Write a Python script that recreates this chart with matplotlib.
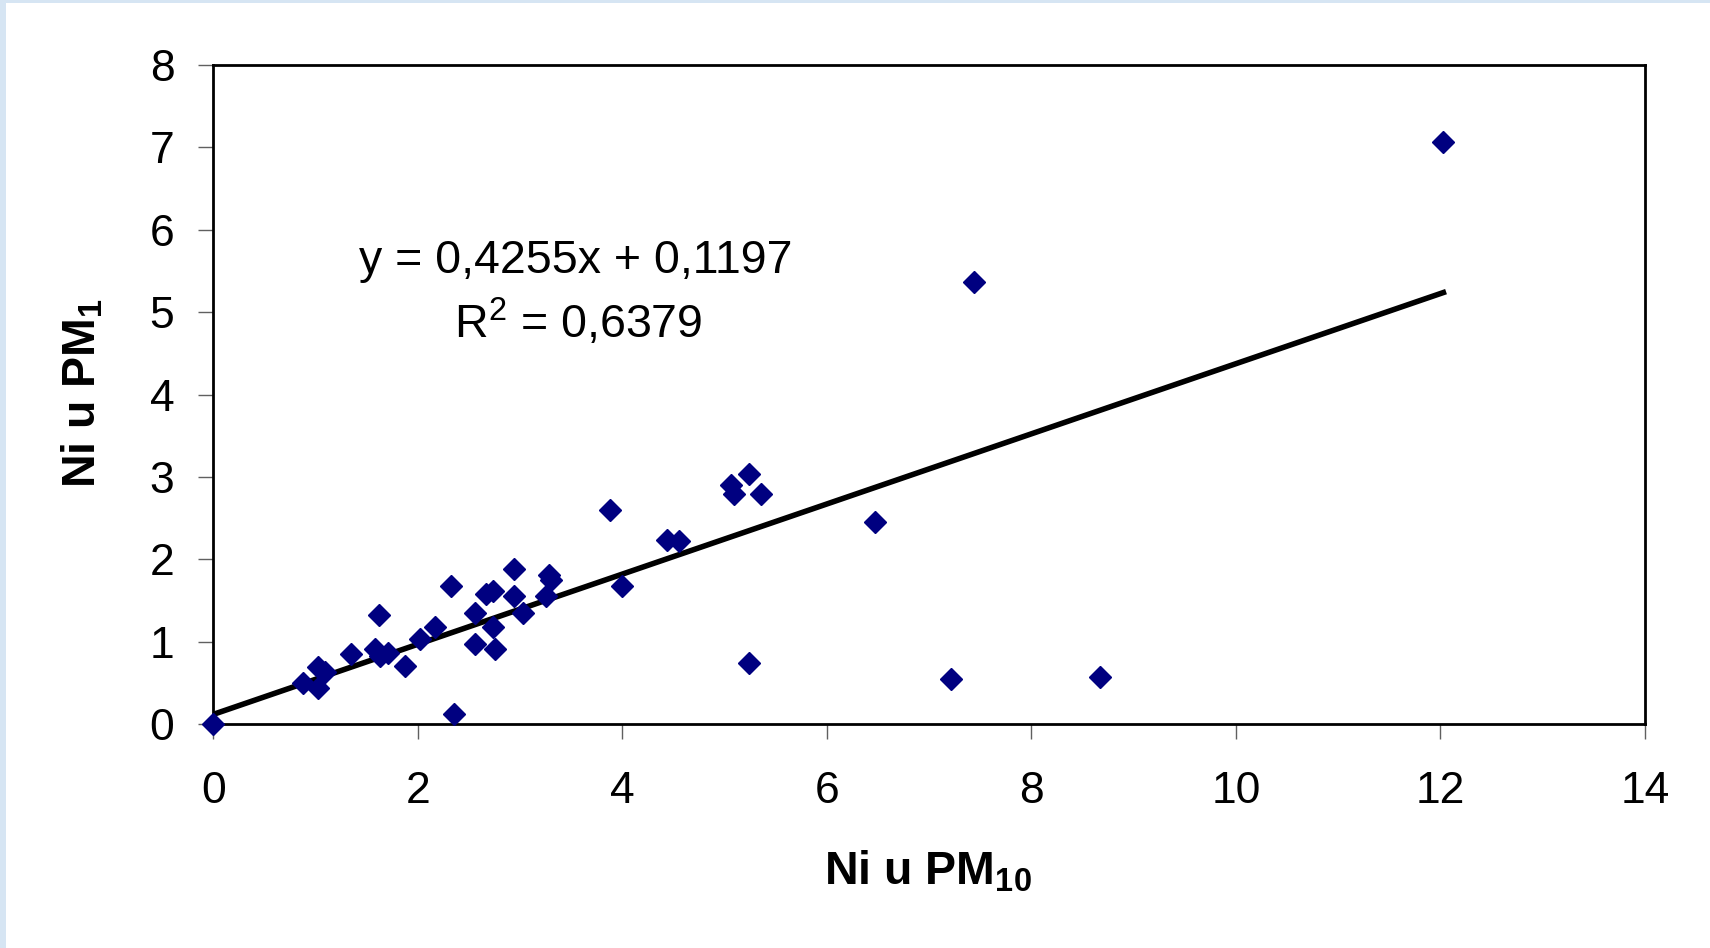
import numpy as np
import matplotlib
matplotlib.use('Agg')
import matplotlib.pyplot as plt
from matplotlib.patches import Rectangle

# podaci: Ni u PM10 (x) i Ni u PM1 (y)
ni_pm10 = [0.0, 0.88, 1.02, 1.09, 1.02, 1.35, 1.62, 1.58, 1.63, 1.71,
           1.88, 2.02, 2.17, 2.33, 2.35, 2.56, 2.56, 2.67, 2.74, 2.74,
           2.76, 2.94, 2.94, 3.03, 3.25, 3.28, 3.30, 3.88, 4.00, 4.44,
           4.55, 5.06, 5.09, 5.24, 5.36, 5.24, 6.47, 7.21, 8.67, 7.44,
           12.03]
ni_pm1 = [0.0, 0.50, 0.70, 0.64, 0.44, 0.85, 1.32, 0.91, 0.83, 0.87,
          0.71, 1.03, 1.18, 1.68, 0.13, 1.35, 0.98, 1.58, 1.62, 1.18,
          0.91, 1.89, 1.56, 1.35, 1.56, 1.81, 1.75, 2.60, 1.68, 2.23,
          2.22, 2.90, 2.80, 3.04, 2.80, 0.74, 2.46, 0.55, 0.57, 5.37,
          7.06]

# linearni trend (Excel)
slope = 0.4255
intercept = 0.1197
r2 = 0.6379

x_ticks = [0, 2, 4, 6, 8, 10, 12, 14]
y_ticks = [0, 1, 2, 3, 4, 5, 6, 7, 8]

plt.rcParams['font.family'] = ['Liberation Sans', 'DejaVu Sans']
plt.rcParams['mathtext.fontset'] = 'custom'
plt.rcParams['mathtext.rm'] = 'Liberation Sans'
plt.rcParams['mathtext.bf'] = 'Liberation Sans:bold'
plt.rcParams['mathtext.it'] = 'Liberation Sans:italic'

fig = plt.figure(figsize=(17.1, 9.48), dpi=100)
fig.patch.set_facecolor('#d6e5f3')
# bijela podloga (plavi rub lijevo i gore)
fig.patches.append(Rectangle((6 / 1710, 0), 1, 1 - 3 / 948, transform=fig.transFigure,
                             facecolor='white', edgecolor='none', zorder=-5))

ax = fig.add_axes([0.1247, 0.2360, 0.8372, 0.6955])
ax.set_facecolor('white')

ax.plot(ni_pm10, ni_pm1, linestyle='none', marker='D', markersize=11.5,
        color='#000080', markeredgecolor='#000080', zorder=3, clip_on=False)

xs = np.array([0, max(ni_pm10)])
ax.plot(xs, slope * xs + intercept, color='black', linewidth=4, zorder=2)

ax.set_xlim(0, 14)
ax.set_ylim(0, 8)
ax.set_xticks(x_ticks)
ax.set_yticks(y_ticks)
ax.set_xticklabels([str(t) for t in x_ticks])
ax.set_yticklabels([str(t) for t in y_ticks])

ax.tick_params(axis='both', direction='out', length=11, width=1, color='#606060',
               labelsize=32)
ax.tick_params(axis='x', pad=23)
ax.tick_params(axis='y', pad=17)

for side in ['left', 'bottom', 'right', 'top']:
    ax.spines[side].set_linewidth(2)
    ax.spines[side].set_color('black')

eq = 'y = ' + str(slope).replace('.', ',') + 'x + ' + str(intercept).replace('.', ',')
fig.text(0.3368, 0.7123, eq, ha='center', va='baseline', fontsize=33.5)
fig.text(0.3380, 0.6435, r'R$^{2}$ = ' + str(r2).replace('.', ','),
         ha='center', va='baseline', fontsize=33.5)

fig.text(0.5427, 0.0665, r'$\mathbf{Ni\ u\ PM_{10}}$', ha='center', va='baseline',
         fontsize=33.5)
fig.text(0.0485, 0.5854, r'$\mathbf{Ni\ u\ PM_{1}}$', ha='center', va='center',
         rotation=90, fontsize=33.5)

fig.savefig('out.png', dpi=100, facecolor=fig.get_facecolor())
